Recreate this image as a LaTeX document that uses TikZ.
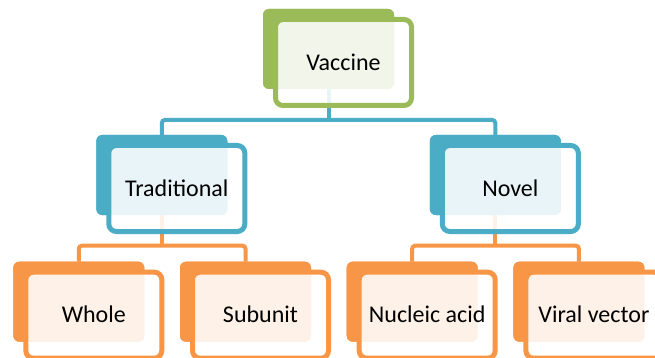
\documentclass[tikz,border=0pt]{standalone}
\usepackage{fontspec}
\setmainfont{Carlito}
\definecolor{cgreen}{HTML}{9BBB59}
\definecolor{cblue}{HTML}{4BACC6}
\definecolor{corange}{HTML}{F79646}
\tikzset{
  backbox/.style={rectangle, rounded corners=6pt, minimum width=131pt, minimum height=80pt, inner sep=0pt, outer sep=0pt, fill=#1, draw=none},
  frontbox/.style={rectangle, rounded corners=7.5pt, minimum width=136pt, minimum height=86pt, inner sep=0pt, outer sep=0pt,
     fill=white, fill opacity=0.88, draw=#1, draw opacity=1, line width=5pt, text opacity=1,
     font=\fontsize{24}{29}\selectfont, text height=15.4pt, text depth=0pt},
  conn/.style={draw=#1, line width=4pt, rounded corners=3pt}
}
\begin{document}
\begin{tikzpicture}[x=1pt,y=-1pt]
\useasboundingbox (0,0) rectangle (655,358);
\clip (0,0) rectangle (655,358);
% junction coordinates
\coordinate (j1) at (328.5,120);
\coordinate (j2) at (161.8,245.7);
\coordinate (j3) at (495.3,245.7);
% back boxes
\node[backbox=cgreen] (vac) at (328.5,49) {};
\node[backbox=cblue] (trad) at (161.8,175) {};
\node[backbox=cblue] (nov) at (495.3,175) {};
\node[backbox=corange] (who) at (78.8,301.7) {};
\node[backbox=corange] (sub) at (245.5,301.7) {};
\node[backbox=corange] (nuc) at (412.2,301.7) {};
\node[backbox=corange] (vir) at (578.9,301.7) {};
% connectors
\draw[conn=cblue] (vac.south) -- (j1);
\draw[conn=cblue] (trad.north) |- (j1) -| (nov.north);
\draw[conn=corange] (trad.south) -- (j2);
\draw[conn=corange] (who.north) |- (j2) -| (sub.north);
\draw[conn=corange] (nov.south) -- (j3);
\draw[conn=corange] (nuc.north) |- (j3) -| (vir.north);
% redraw back boxes over connector ends
\node[backbox=cgreen] at (vac) {};
\node[backbox=cblue] at (trad) {};
\node[backbox=cblue] at (nov) {};
\node[backbox=corange] at (who) {};
\node[backbox=corange] at (sub) {};
\node[backbox=corange] at (nuc) {};
\node[backbox=corange] at (vir) {};
% front boxes with text
\node[frontbox=cgreen] (vacF) at ([shift={(15,13.5)}]vac.center) {Vaccine};
\node[frontbox=cblue] (tradF) at ([shift={(15,13.5)}]trad.center) {Traditional};
\node[frontbox=cblue] (novF) at ([shift={(15,13.5)}]nov.center) {Novel};
\node[frontbox=corange] (whoF) at ([shift={(15,13.5)}]who.center) {Whole};
\node[frontbox=corange] (subF) at ([shift={(15,13.5)}]sub.center) {Subunit};
\node[frontbox=corange] (nucF) at ([shift={(15,13.5)}]nuc.center) {Nucleic acid};
\node[frontbox=corange] (virF) at ([shift={(15,13.5)}]vir.center) {Viral vector};
\end{tikzpicture}
\end{document}
